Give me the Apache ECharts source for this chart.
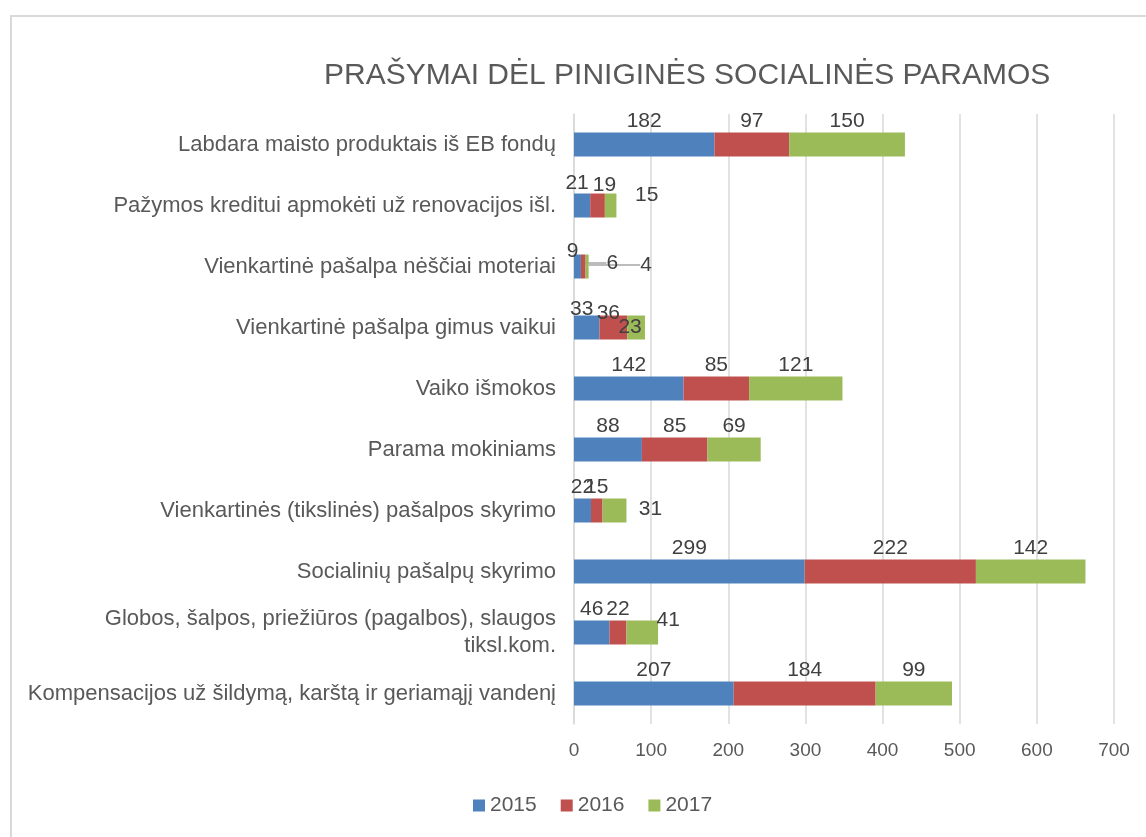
<!DOCTYPE html>
<html>
<head>
<meta charset="UTF-8">
<title>Prašymai dėl piniginės socialinės paramos</title>
<script src="https://cdn.jsdelivr.net/npm/echarts@6/dist/echarts.min.js"></script>
<style>
  html, body { margin: 0; padding: 0; background: #fff; }
  #chart { width: 1146px; height: 837px; }
</style>
</head>
<body>
<div id="chart"></div>
<script type="text/javascript">
    // categories listed bottom -> top, as the axis draws them
    var categories = [
        'Kompensacijos už šildymą, karštą ir geriamąjį vandenį',
        'Globos, šalpos, priežiūros (pagalbos), slaugos\ntiksl.kom.',
        'Socialinių pašalpų skyrimo',
        'Vienkartinės (tikslinės) pašalpos skyrimo',
        'Parama mokiniams',
        'Vaiko išmokos',
        'Vienkartinė pašalpa gimus vaikui',
        'Vienkartinė pašalpa nėščiai moteriai',
        'Pažymos kreditui apmokėti už renovacijos išl.',
        'Labdara maisto produktais iš EB fondų'
    ];
    var years = ['2015', '2016', '2017'];
    var v2015 = [207, 46, 299, 22, 88, 142, 33, 9, 21, 182];
    var v2016 = [184, 22, 222, 15, 85, 85, 36, 6, 19, 97];
    var v2017 = [99, 41, 142, 31, 69, 121, 23, 4, 15, 150];
    var xTicks = [0, 100, 200, 300, 400, 500, 600, 700];

    var colors = ['#4f81bd', '#c0504d', '#9bbb59'];
    var font = '"Liberation Sans", Arial, sans-serif';

    // hand placed labels (Excel moved a few of them), per series: index -> [dx, dy, line]
    var moved = [
        {7: [-5, 8], 6: [-5, 5], 8: [-5, 1]},
        {7: [29, 20, true], 6: [-5, 9], 8: [7, 3]},
        {7: [59, 22, true], 6: [-6, 23], 8: [36, 13], 3: [36, 22], 1: [26, 11]}
    ];

    var chart = echarts.init(document.getElementById('chart'));

    var series = [v2015, v2016, v2017].map(function (vals, s) {
        return {
            name: years[s],
            type: 'bar',
            stack: 'total',
            barWidth: 24,
            itemStyle: {color: colors[s]},
            data: vals.map(function (v, i) {
                var m = moved[s][i];
                if (m && m[2]) {
                    return {value: v, labelLine: {show: true, lineStyle: {color: '#a6a6a6', width: 1.5}}};
                }
                return v;
            }),
            label: {
                show: true,
                position: 'top',
                distance: 1,
                color: '#404040',
                fontFamily: font,
                fontSize: 21
            },
            labelLine: {show: false},
            labelLayout: function (p) {
                var m = moved[s][p.dataIndex];
                return m ? {dx: m[0], dy: m[1]} : {};
            }
        };
    });

    chart.setOption({
        animation: false,
        textStyle: {fontFamily: font},
        title: {
            text: 'PRAŠYMAI DĖL PINIGINĖS SOCIALINĖS PARAMOS',
            left: 319,
            top: 56,
            textStyle: {color: '#595959', fontSize: 30, fontWeight: 'normal', fontFamily: font}
        },
        graphic: [{
            type: 'rect',
            shape: {x: 11, y: 16, width: 1200, height: 900},
            style: {fill: 'none', stroke: '#d9d9d9', lineWidth: 2},
            silent: true
        }],
        legend: {
            data: years,
            bottom: 16,
            left: 468,
            itemWidth: 12,
            itemHeight: 12,
            itemGap: 24,
            icon: 'rect',
            textStyle: {color: '#595959', fontSize: 21, fontFamily: font}
        },
        grid: {left: 574, right: 32, top: 114, height: 610},
        xAxis: {
            type: 'value',
            min: xTicks[0],
            max: xTicks[xTicks.length - 1],
            interval: 100,
            axisLine: {show: false},
            axisTick: {show: false},
            axisLabel: {color: '#595959', fontSize: 19, margin: 17, fontFamily: font},
            splitLine: {lineStyle: {color: '#d9d9d9', width: 1.5}}
        },
        yAxis: {
            type: 'category',
            data: categories,
            axisLine: {lineStyle: {color: '#d9d9d9', width: 1.5}},
            axisTick: {show: false},
            axisLabel: {color: '#595959', fontSize: 22, margin: 18, lineHeight: 27, fontFamily: font}
        },
        series: series
    });
</script>
</body>
</html>
